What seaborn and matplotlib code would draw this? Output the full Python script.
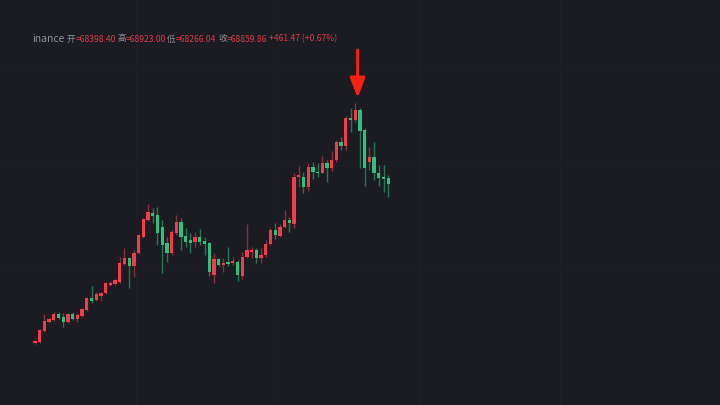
import numpy as np
import pandas as pd
import seaborn as sns
import matplotlib.pyplot as plt

# OHLC values (76 candles)
opens = [59280, 59320, 59760, 60120, 60200, 60440, 60320, 60120, 60440, 60240,
         60360, 60600, 61080, 61000, 61160, 61280, 61600, 61640, 61720, 62440,
         62680, 62360, 62880, 63520, 64200, 64480, 64400, 63920, 63280, 62880,
         63680, 64120, 63560, 63400, 63320, 63520, 63360, 63280, 62000, 62640,
         62400, 62520, 62480, 62520, 61960, 62720, 62920, 63000, 62680, 62800,
         63240, 63800, 63560, 63920, 64200, 64040, 65920, 65920, 65520, 66320,
         66120, 66080, 66480, 66280, 66600, 67320, 67160, 68280, 68200, 68600,
         67800, 66520, 66720, 66080, 65920, 65880]
highs = [59400, 59840, 60440, 60280, 60520, 60520, 60480, 60480, 60520, 60480,
         60680, 61120, 61560, 61320, 61320, 61720, 61760, 61840, 62720, 63080,
         62720, 63000, 63640, 64280, 64840, 64680, 64720, 64200, 63520, 63800,
         64400, 64280, 63880, 63680, 63720, 63840, 63520, 63320, 62880, 62680,
         62680, 63120, 62720, 62600, 62920, 64040, 63120, 63080, 63080, 63400,
         63880, 64080, 64040, 64600, 64320, 66080, 66360, 66120, 66480, 66520,
         66480, 66760, 66600, 66960, 67400, 67520, 68360, 68680, 68880, 68680,
         67880, 67120, 67320, 66400, 66400, 66000]
lows = [59240, 59280, 59720, 60080, 60160, 60240, 59920, 60080, 60200, 60120,
        60320, 60560, 60880, 60960, 60960, 61240, 61560, 61600, 61680, 62400,
        61480, 61920, 62840, 63480, 64160, 64080, 63200, 62080, 62520, 62800,
        63600, 63000, 63120, 62880, 63120, 63200, 62800, 61960, 61680, 62360,
        62120, 62360, 62400, 61760, 61840, 62680, 62680, 62480, 62480, 62720,
        63200, 63440, 63520, 63880, 63720, 63880, 65520, 65280, 65360, 65840,
        65920, 66080, 65720, 66160, 66520, 67000, 67000, 67720, 68120, 66280,
        65560, 66200, 65800, 65560, 65320, 65120]
closes = [59360, 59800, 60160, 60240, 60440, 60280, 60120, 60440, 60240, 60400,
          60640, 61080, 60960, 61240, 61280, 61680, 61680, 61800, 62480, 62680,
          62360, 62880, 63600, 64240, 64520, 64360, 63680, 63200, 62880, 63720,
          64120, 63520, 63320, 63280, 63520, 63320, 63240, 62120, 62640, 62400,
          62480, 62440, 62560, 62000, 62720, 63000, 63000, 62680, 62800, 63240,
          63800, 63600, 63920, 64200, 64080, 65920, 66000, 65520, 66320, 66120,
          66080, 66480, 66280, 66600, 67320, 67160, 68280, 68200, 68600, 67760,
          66280, 66720, 66080, 65880, 65840, 65640]

title_name = "inance"
title_labels = ["开", "高", "低", "收"]
title_values = ["=68398.40", "=68923.00", "=68266.04", "=68859.86"]
title_change = "+461.47 (+0.67%)"

bg = "#1b1c21"
up_col = "#f23b4f"
down_col = "#2ec07f"
text_grey = "#8b8e97"
text_red = "#d8394b"
arrow_col = "#f5220f"

sns.set_theme(style="dark", rc={"axes.facecolor": bg, "figure.facecolor": bg,
                                "savefig.facecolor": bg})
plt.rcParams['font.family'] = ['Noto Sans CJK SC', 'DejaVu Sans']

df = pd.DataFrame({"open": opens, "high": highs, "low": lows, "close": closes})
df["idx"] = np.arange(len(df))
df["rise"] = df["close"] >= df["open"]
colors = np.where(df["rise"], up_col, down_col)

fig = plt.figure(figsize=(7.2, 4.05), dpi=100)
ax = fig.add_axes([0, 0, 1, 1])

# very faint grid
for gx in [21.5, 51.5, 81.5, 111.5]:
    ax.axvline(gx, color="#1e1f24", lw=1, zorder=0)
for gy in [62400, 66400, 70400]:
    ax.axhline(gy, color="#1e1f24", lw=1, zorder=0)

# wicks
ax.vlines(df["idx"], df["low"], df["high"], colors=colors, linewidth=1.0, alpha=0.55, zorder=2)
# bodies
body = (df["close"] - df["open"]).abs().clip(lower=40)
bottom = np.minimum(df["open"], df["close"])
ax.bar(df["idx"], body, bottom=bottom, width=0.7, color=colors, linewidth=0, zorder=3)

ax.set_xlim(-7.43, 145.44)
ax.set_ylim(56800, 73000)
ax.set_xticks([])
ax.set_yticks([])
for s in ax.spines.values():
    s.set_visible(False)

# arrow pointing at the top
ax.annotate("", xy=(68.5, 69080), xytext=(68.5, 71000),
            arrowprops=dict(arrowstyle="-|>,head_length=1.0,head_width=0.38",
                            lw=2.2, color=arrow_col, shrinkA=0, shrinkB=0))

# header text
ty = 1 - 39 / 405
fig.text(32 / 720, ty, title_name, color=text_grey, fontsize=7.5, va="center")
xs = [67, 117, 167, 218]
for x, lab, val in zip(xs, title_labels, title_values):
    fig.text(x / 720, ty, lab, color=text_grey, fontsize=6.2, va="center")
    fig.text((x + 9) / 720, ty, val, color=text_red, fontsize=6.2, va="center")
fig.text(269 / 720, ty, title_change, color=text_red, fontsize=6.2, va="center")

fig.savefig("out.png", dpi=100)
